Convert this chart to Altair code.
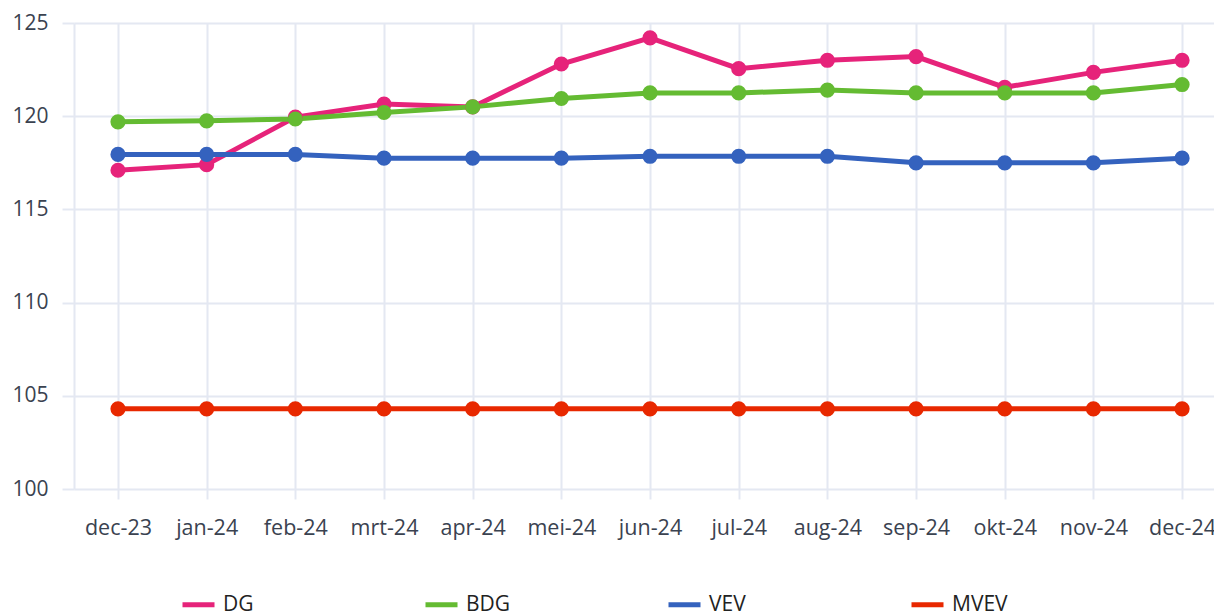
import altair as alt
import pandas as pd

months = ["dec-23", "jan-24", "feb-24", "mrt-24", "apr-24", "mei-24", "jun-24",
          "jul-24", "aug-24", "sep-24", "okt-24", "nov-24", "dec-24"]
dg = [117.1, 117.4, 119.95, 120.65, 120.5, 122.8, 124.2, 122.55, 123.0, 123.2, 121.55, 122.35, 123.0]
bdg = [119.7, 119.75, 119.85, 120.2, 120.5, 120.95, 121.25, 121.25, 121.4, 121.25, 121.25, 121.25, 121.7]
vev = [117.95, 117.95, 117.95, 117.75, 117.75, 117.75, 117.85, 117.85, 117.85, 117.5, 117.5, 117.5, 117.75]
mvev = [104.3] * 13
series_names = ["DG", "BDG", "VEV", "MVEV"]
series_colors = ["#E6237A", "#64BB32", "#3462BE", "#E82800"]

rows = []
for name, vals in zip(series_names, [dg, bdg, vev, mvev]):
    for i, (m, v) in enumerate(zip(months, vals)):
        rows.append({"idx": i, "maand": m, "serie": name, "waarde": v})
df = pd.DataFrame(rows)

GRID = "#E4E8F2"
TEXT = "#3a4250"
FONT = "Open Sans"

label_expr = "[" + ",".join("'%s'" % m for m in months) + "][datum.value]"

chart = alt.Chart(df).mark_line(
    strokeWidth=5,
    point=alt.OverlayMarkDef(size=230, filled=True, opacity=1),
).encode(
    x=alt.X("idx:Q", scale=alt.Scale(domain=[-0.496, 12.36], nice=False, zero=False),
            axis=alt.Axis(title=None, values=list(range(len(months))), labelExpr=label_expr,
                          labelAngle=0, grid=True, gridColor=GRID, gridWidth=2,
                          domain=False, ticks=True, tickColor=GRID, tickWidth=2, tickSize=10,
                          labelPadding=18, labelFontSize=21.5, labelColor=TEXT, labelFont=FONT,
                          labelFlush=False, labelOverlap=False)),
    y=alt.Y("waarde:Q", scale=alt.Scale(domain=[100, 125], nice=False, zero=False),
            axis=alt.Axis(title=None, values=[100, 105, 110, 115, 120, 125], grid=True,
                          gridColor=GRID, gridWidth=2, domain=True, domainColor=GRID, domainWidth=2,
                          ticks=True, tickColor=GRID, tickWidth=2, tickSize=12,
                          labelPadding=14, labelFontSize=21, labelColor=TEXT, labelFont=FONT)),
    color=alt.Color("serie:N", sort=series_names,
                    scale=alt.Scale(domain=series_names, range=series_colors),
                    legend=alt.Legend(title=None, orient="none", legendX=106, legendY=563,
                                      direction="horizontal", columns=4, gridAlign="all",
                                      columnPadding=136, symbolType="stroke", symbolSize=1024,
                                      symbolStrokeWidth=5, labelOffset=6, labelFontSize=21,
                                      labelFont=FONT, labelColor="#222222")),
    order=alt.Order("idx:Q"),
).properties(
    width=1140, height=466,
    autosize=alt.AutoSizeParams(type="none"),
    padding={"left": 74, "top": 23, "right": 0, "bottom": 122},
    background="white",
).configure_view(stroke=None)

chart.save("out.html", embed_options={"renderer": "svg", "actions": False})
